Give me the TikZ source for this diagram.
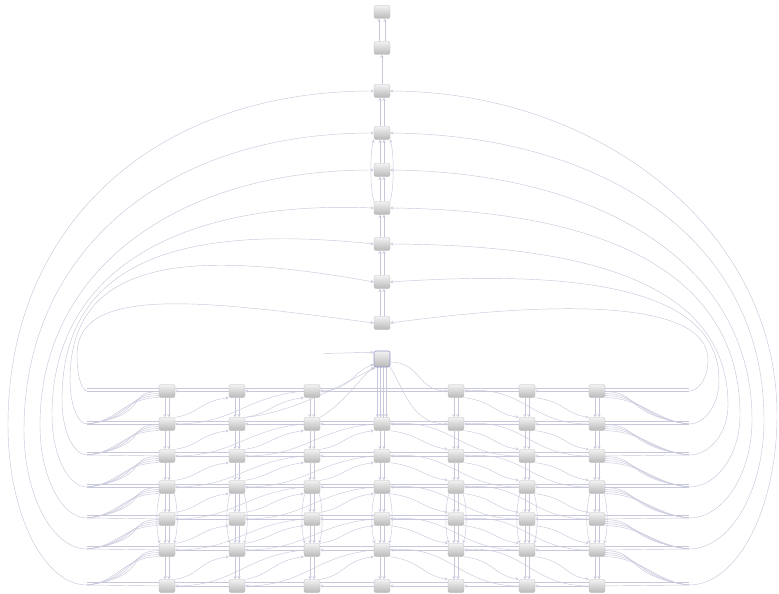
\documentclass[tikz,border=0pt]{standalone}
\usetikzlibrary{backgrounds}
\definecolor{hrana}{RGB}{200,200,220}
\definecolor{okraj}{RGB}{150,150,205}

\begin{document}
\begin{tikzpicture}[
  x=1pt, y=-1pt,
  arrow/.style = {->,>=stealth, draw=hrana, line width=0.45pt},
  edge/.style = {draw=hrana, line width=0.45pt},
  box/.style = {rectangle, rounded corners=2pt, inner sep=0pt,
    minimum width=16pt, minimum height=13pt,
    top color=gray!10, bottom color=gray!55, draw=gray!55, line width=0.3pt},
  hub/.style = {box, minimum width=16pt, minimum height=16pt,
    draw=okraj, line width=0.6pt}]
  \useasboundingbox (0,0) rectangle (779,594);

  % horný stĺpec
  \foreach \i/\y in {1/12, 2/48, 3/91, 4/133, 5/170, 6/208, 7/244, 8/282, 9/323}
    \node[box] (t\i) at (382,\y) {};
  \node[hub] (h) at (382,359) {};
  \coordinate (hin) at (324,353.5);

  % mriežka uzlov
  \foreach \col/\x in {1/167, 2/237, 3/312, 4/382, 5/456, 6/527, 7/597} {
    \foreach \row/\y in {1/391, 2/424, 3/456, 4/487, 5/519, 6/550, 7/586} {
      \ifnum\col\row=41 \else
        \node[box] (n\col-\row) at (\x,\y) {};
      \fi
    }
  }

  % zberné body po stranách
  \foreach \row/\y in {1/391, 2/424, 3/455, 4/487, 5/518, 6/549, 7/585} {
    \coordinate (L\row) at (87,\y);
    \coordinate (R\row) at (689,\y);
  }

  \begin{scope}[on background layer]
    % horný stĺpec - spoje
    \draw[arrow] ([xshift=-3pt]t2.north) -- ([xshift=-3pt]t1.south);
    \draw[arrow] ([xshift=3pt]t2.north) -- ([xshift=3pt]t1.south);
    \draw[arrow] (t3.north) -- (t2.south);
    \foreach \a/\b in {4/3, 5/4, 6/5, 7/6, 8/7, 9/8} {
      \draw[arrow] ([xshift=-2pt]t\a.north) -- ([xshift=-2pt]t\b.south);
      \draw[arrow] ([xshift=2pt]t\a.north) -- ([xshift=2pt]t\b.south);
    }
    \draw[arrow] (t6.north west) .. controls +(-4,-14) and +(-4,14) .. (t4.south west);
    \draw[arrow] (t6.north east) .. controls +(4,-14) and +(4,14) .. (t4.south east);

    % veľké oblúky - vľavo
    \foreach \tn/\row/\yr/\xs/\ys/\ay/\cx/\cy in {3/7/585/8/425/225/154/91,
        4/6/549/24/430/252/164/133, 5/5/518/40/425/272/174/170,
        6/4/487/52/415/270/180/200, 7/3/455/62/400/255/190/225,
        8/2/424/70/380/255/195/250, 9/1/391/77/355/285/200/300} {
      \draw[arrow] (L\row) .. controls ({87-0.55*(87-\xs)},\yr) and (\xs,{\ys+0.55*(\yr-\ys)})
        .. (\xs,\ys) .. controls (\xs,\ay) and (\cx,\cy) .. (t\tn.west);
    }

    % veľké oblúky - vpravo
    \foreach \tn/\row/\yr/\xs/\ys/\ay/\cx/\cy in {3/7/585/777/415/230/600/92,
        4/6/549/764/420/235/598/135, 5/5/518/752/420/260/595/172,
        6/4/487/740/415/265/590/210, 7/3/455/728/405/280/580/245,
        8/2/424/719/380/285/570/270, 9/1/391/708/360/300/560/300} {
      \draw[arrow] (R\row) .. controls ({689+0.55*(\xs-689)},\yr) and (\xs,{\ys+0.55*(\yr-\ys)})
        .. (\xs,\ys) .. controls (\xs,\ay) and (\cx,\cy) .. (t\tn.east);
    }

    % vejáre pri zberných bodoch
    \foreach \row in {2,...,7} {
      \pgfmathtruncatemacro\prv{\row-1}
      \foreach \k/\sp in {0/10, 2/22, 4/34, 6/46} {
        \draw[edge] (L\row) .. controls +({20+\sp},{-\sp/5}) and +(-35,0) .. ([yshift=\k pt]n1-\prv.south west);
        \draw[edge] (R\row) .. controls +({-20-\sp},{-\sp/5}) and +(35,0) .. ([yshift=\k pt]n7-\prv.south east);
      }
    }

    % riadky
    \foreach \row in {1,...,7} {
      \draw[edge] ([yshift=3pt]R\row) -- ([yshift=3pt]L\row);
      \draw[edge] (n1-\row) -- (L\row);
      \draw[edge] (n7-\row) -- (R\row);
    }
    \foreach \row in {2,...,7} {
      \foreach \col in {1,...,6} {
        \pgfmathtruncatemacro\nxt{\col+1}
        \draw[arrow] (n\nxt-\row) -- (n\col-\row);
      }
    }
    \foreach \col/\nxt in {1/2, 2/3, 5/6, 6/7}
      \draw[arrow] (n\nxt-1) -- (n\col-1);
    \draw[arrow] (n5-1) -- (n3-1);

    % stĺpce
    \foreach \col in {1,2,3,4,5,6,7} {
      \foreach \row in {1,...,6} {
        \pgfmathtruncatemacro\nxt{\row+1}
        \ifnum\col\row=41 \else
          \draw[arrow] ([xshift=-2pt]n\col-\row.south) -- ([xshift=-2pt]n\col-\nxt.north);
          \draw[arrow] ([xshift=2pt]n\col-\row.south) -- ([xshift=2pt]n\col-\nxt.north);
        \fi
      }
    }
    \foreach \dx in {-4.5,-1.5,1.5,4.5}
      \draw[arrow] ([xshift=\dx pt]h.south) -- ([xshift=\dx pt]n4-2.north);
    \foreach \col in {1,...,7} {
      \draw[arrow] ([xshift=1pt]n\col-4.south west) .. controls +(-4,14) and +(-4,-14) .. ([xshift=1pt]n\col-6.north west);
      \draw[arrow] ([xshift=-1pt]n\col-4.south east) .. controls +(4,14) and +(4,-14) .. ([xshift=-1pt]n\col-6.north east);
    }

    % šikmé spoje - ľavá polovica
    \foreach \col in {1,2,3} {
      \foreach \row in {1,...,6} {
        \pgfmathtruncatemacro\cn{\col+1}
        \pgfmathtruncatemacro\cnn{\col+2}
        \pgfmathtruncatemacro\nxt{\row+1}
        \ifnum\col\row=31 \else
          \draw[arrow] (n\col-\nxt.north east) .. controls +(25,-4) and +(-30,4) .. (n\cn-\row.south west);
        \fi
        \ifnum\col<3 \ifnum\col\row=21 \else
          \draw[edge] (n\col-\nxt.east) .. controls +(60,0) and +(-60,6) .. (n\cnn-\row.west);
        \fi \fi
      }
    }

    % šikmé spoje - pravá polovica
    \foreach \col in {4,5,6} {
      \foreach \row in {1,...,6} {
        \pgfmathtruncatemacro\cn{\col+1}
        \pgfmathtruncatemacro\cnn{\col+2}
        \pgfmathtruncatemacro\nxt{\row+1}
        \ifnum\col\row=41 \else
          \draw[arrow] (n\col-\row.south east) .. controls +(30,4) and +(-25,-4) .. (n\cn-\nxt.north west);
          \ifnum\col<6
            \draw[edge] (n\col-\row.east) .. controls +(60,-6) and +(-60,0) .. (n\cnn-\nxt.west);
          \fi
        \fi
      }
    }

    % spoje okolo uzla h
    \draw[arrow] (hin) -- ([yshift=-1.5pt]h.north west);
    \draw[arrow] (n3-1.east) .. controls +(30,0) and +(-22,8) .. ([yshift=3pt]h.south west);
    \draw[arrow] (n3-2.north east) .. controls +(25,-15) and +(-15,12) .. (h.south west);
    \draw[arrow] (n2-2.north east) .. controls +(50,-5) and +(-30,15) .. ([xshift=2pt]h.south west);
    \draw[arrow] ([yshift=-3pt]h.east) .. controls +(30,0) and +(-30,0) .. (n5-1.west);
    \draw[arrow] (h.south east) .. controls +(15,25) and +(-35,0) .. (n5-2.west);
  \end{scope}
\end{tikzpicture}
\end{document}
